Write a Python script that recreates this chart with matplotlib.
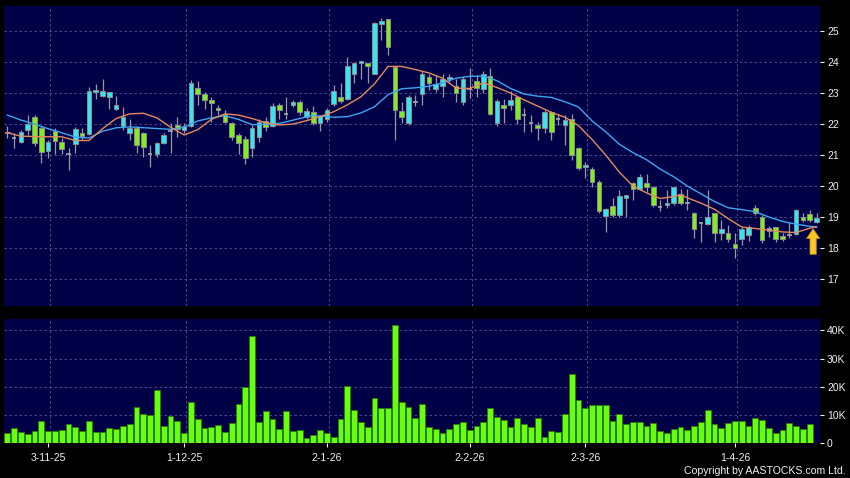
import matplotlib
matplotlib.use("Agg")
import matplotlib.pyplot as plt
from matplotlib.patches import Rectangle
import numpy as np

plt.rcParams['font.family'] = ['Liberation Sans', 'DejaVu Sans']

# daily candles, oldest first
opens = [21.76, 21.54, 21.41, 21.80, 22.24, 21.88, 21.13, 21.78, 21.43, 21.04,
         21.35, 21.70, 21.68, 23.03, 22.89, 22.86, 22.50, 21.93, 21.72, 21.88,
         21.72, 21.03, 21.03, 21.40, 21.78, 21.98, 21.81, 21.94, 23.18, 22.96,
         22.77, 22.52, 22.34, 22.02, 21.65, 21.51, 21.22, 21.59, 22.11, 21.94,
         22.61, 22.34, 22.60, 22.72, 22.22, 22.40, 22.04, 22.16, 22.65, 22.88,
         22.82, 23.61, 23.96, 23.96, 23.63, 25.23, 25.38, 23.83, 22.42, 22.04,
         22.72, 22.96, 23.51, 23.12, 23.23, 23.45, 23.23, 22.72, 23.12, 23.40,
         23.12, 23.55, 22.02, 22.60, 22.60, 22.88, 22.29, 22.04, 21.97, 21.86,
         22.40, 22.16, 21.96, 22.18, 21.22, 20.62, 20.54, 20.14, 19.03, 19.35,
         19.06, 19.63, 20.09, 19.92, 20.09, 19.98, 19.33, 19.39, 19.44, 19.74,
         19.44, 19.14, 18.80, 18.77, 19.12, 18.50, 18.49, 18.12, 18.29, 18.42,
         19.28, 19.01, 18.55, 18.67, 18.40, 18.42, 18.44, 19.01, 19.09, 18.83]
highs = [21.93, 21.70, 21.80, 22.30, 22.29, 21.93, 21.48, 21.86, 21.54, 21.24,
         21.91, 21.86, 23.20, 23.28, 23.47, 23.05, 22.90, 22.56, 22.18, 21.93,
         21.75, 21.32, 21.43, 21.70, 22.02, 22.24, 22.05, 23.42, 23.40, 23.05,
         22.88, 22.62, 22.45, 22.08, 21.70, 21.60, 21.96, 22.18, 22.24, 22.67,
         22.67, 22.88, 22.77, 22.77, 22.51, 22.58, 22.29, 22.51, 23.26, 23.31,
         24.17, 24.01, 24.03, 23.98, 25.30, 25.41, 25.38, 23.85, 22.72, 22.94,
         22.94, 23.72, 23.61, 23.58, 23.61, 23.63, 23.47, 23.55, 23.80, 23.58,
         23.72, 23.80, 22.80, 22.80, 23.08, 22.90, 22.51, 22.29, 22.08, 22.45,
         22.43, 22.34, 22.29, 22.34, 21.27, 20.78, 20.62, 20.19, 19.28, 19.60,
         19.87, 19.71, 20.12, 20.39, 20.39, 20.01, 19.55, 19.87, 19.98, 19.92,
         19.89, 19.17, 18.85, 19.87, 19.14, 18.90, 18.74, 18.47, 18.69, 18.74,
         19.39, 19.06, 18.71, 18.69, 18.47, 18.85, 19.25, 19.12, 19.23, 19.12]
lows = [21.54, 21.22, 21.38, 21.65, 21.29, 20.75, 20.92, 21.05, 21.03, 20.52,
        21.07, 21.50, 21.65, 22.81, 22.86, 22.50, 22.47, 21.81, 21.50, 21.07,
        20.95, 20.62, 20.95, 21.37, 21.08, 21.59, 21.70, 21.90, 22.61, 22.50,
        22.08, 22.30, 22.04, 21.50, 21.05, 20.70, 20.95, 21.43, 21.78, 21.92,
        22.18, 22.18, 22.55, 22.29, 22.16, 21.97, 21.78, 22.08, 22.58, 22.67,
        22.77, 23.31, 23.47, 23.33, 23.63, 24.71, 24.23, 21.50, 22.02, 21.97,
        22.58, 22.61, 23.10, 23.04, 22.86, 23.37, 22.72, 22.63, 22.83, 22.86,
        22.99, 22.29, 21.94, 22.04, 22.45, 22.00, 21.75, 21.75, 21.50, 21.70,
        21.48, 21.97, 21.32, 20.84, 20.52, 20.25, 19.98, 19.12, 18.53, 19.01,
        19.01, 18.99, 19.55, 19.87, 19.82, 19.31, 19.20, 19.28, 19.39, 19.39,
        19.23, 18.31, 18.20, 18.74, 18.20, 18.25, 18.20, 17.67, 18.10, 18.24,
        19.06, 18.17, 18.36, 18.20, 18.24, 18.34, 18.42, 18.85, 18.83, 18.80]
closes = [21.71, 21.54, 21.75, 21.99, 21.38, 21.09, 21.41, 21.46, 21.19, 21.04,
          21.83, 21.60, 23.07, 23.10, 23.07, 23.05, 22.60, 22.24, 21.88, 21.34,
          21.27, 21.03, 21.40, 21.65, 21.78, 21.85, 21.94, 23.31, 22.97, 22.77,
          22.67, 22.47, 22.08, 21.59, 21.38, 20.92, 21.86, 22.08, 21.89, 22.58,
          22.45, 22.34, 22.72, 22.38, 22.43, 22.04, 22.26, 22.45, 23.08, 22.75,
          23.89, 23.96, 24.02, 23.89, 25.25, 25.31, 24.49, 22.47, 22.24, 22.86,
          22.72, 23.61, 23.34, 23.29, 23.47, 23.53, 23.01, 23.47, 23.12, 23.18,
          23.63, 22.32, 22.75, 22.51, 22.77, 22.18, 22.29, 22.04, 21.88, 22.40,
          21.75, 22.16, 22.13, 21.00, 20.57, 20.67, 20.14, 19.20, 19.25, 19.06,
          19.68, 19.71, 19.89, 20.28, 19.98, 19.39, 19.33, 19.45, 19.96, 19.46,
          19.44, 18.60, 18.80, 19.01, 18.47, 18.63, 18.29, 18.01, 18.60, 18.69,
          19.14, 18.26, 18.65, 18.29, 18.29, 18.42, 19.22, 18.90, 18.90, 18.96]
volumes = [3.5, 5.3, 4.0, 3.4, 4.4, 7.8, 4.5, 4.4, 4.8, 6.9,
           5.7, 4.4, 7.9, 4.1, 3.9, 5.3, 5.0, 6.0, 6.8, 12.7,
           10.3, 9.9, 18.9, 6.1, 9.6, 7.9, 3.5, 14.6, 8.7, 5.4,
           5.9, 6.5, 4.0, 7.1, 13.8, 19.9, 38.1, 7.7, 11.4, 8.7,
           5.1, 11.4, 4.5, 4.6, 2.0, 2.9, 4.7, 3.5, 2.2, 8.7,
           20.3, 11.8, 7.6, 5.7, 16.1, 12.4, 12.4, 41.8, 14.6, 12.7,
           9.0, 13.9, 5.7, 5.0, 3.5, 5.0, 6.7, 7.5, 4.7, 6.1,
           7.4, 12.6, 9.4, 8.2, 5.7, 9.0, 6.8, 5.7, 9.1, 2.4,
           4.5, 4.0, 10.3, 24.6, 15.2, 12.6, 13.4, 13.4, 13.4, 7.8,
           10.2, 6.7, 7.7, 7.7, 6.3, 7.3, 4.5, 3.8, 5.0, 5.7,
           4.7, 6.1, 7.4, 11.8, 6.9, 5.5, 7.1, 7.9, 7.9, 6.1,
           9.1, 8.3, 5.5, 3.6, 4.6, 7.1, 6.1, 5.0, 6.7, 0.2]  # thousands

# moving averages (bar index, value)
ma_fast_idx = [0, 2, 5, 8, 10, 12, 14, 16, 18, 20, 22, 24, 26, 28, 30, 32, 34, 36,
               38, 40, 42, 44, 46, 48, 50, 52, 54, 56, 58, 60, 62, 64, 66, 68, 70,
               72, 74, 76, 78, 80, 82, 84, 86, 88, 90, 92, 94, 96, 98, 99, 100, 102,
               104, 106, 108, 110, 112, 114, 116, 118, 119]
ma_fast = [21.72, 21.61, 21.59, 21.59, 21.47, 21.47, 21.85, 22.18, 22.33, 22.35,
           22.20, 21.90, 21.65, 21.82, 22.15, 22.33, 22.29, 22.18, 22.04, 21.97,
           22.00, 22.11, 22.24, 22.40, 22.62, 22.88, 23.30, 23.86, 23.86, 23.76,
           23.65, 23.48, 23.16, 23.15, 23.33, 23.18, 23.00, 22.78, 22.58, 22.38,
           22.22, 21.95, 21.50, 21.00, 20.45, 20.00, 19.78, 19.60, 19.66, 19.72,
           19.62, 19.45, 19.25, 18.95, 18.68, 18.63, 18.58, 18.52, 18.50, 18.64,
           18.69]
ma_slow_idx = [0, 2, 4, 6, 8, 10, 12, 14, 16, 18, 21, 24, 26, 28, 30, 32, 34, 36,
               38, 40, 43, 45, 48, 50, 52, 54, 56, 58, 60, 62, 64, 66, 68, 70, 72,
               74, 76, 78, 80, 82, 84, 86, 88, 90, 92, 94, 96, 98, 100, 102, 104,
               106, 108, 110, 112, 114, 116, 118, 119]
ma_slow = [22.29, 22.13, 22.00, 21.85, 21.72, 21.58, 21.55, 21.77, 21.88, 21.91,
           21.87, 21.83, 21.90, 22.10, 22.20, 22.27, 22.15, 21.98, 21.99, 22.02,
           22.18, 22.28, 22.22, 22.24, 22.36, 22.56, 22.95, 23.14, 23.17, 23.22,
           23.33, 23.48, 23.54, 23.55, 23.40, 23.15, 22.97, 22.90, 22.86, 22.72,
           22.55, 22.10, 21.75, 21.35, 21.08, 20.85, 20.55, 20.30, 20.00, 19.75,
           19.50, 19.30, 19.24, 19.17, 19.00, 18.86, 18.77, 18.70, 18.68]

date_labels = ['3-11-25', '1-12-25', '2-1-26', '2-2-26', '2-3-26', '1-4-26']
date_idx = [6, 26, 47, 68, 85, 107]
price_ticks = [17, 18, 19, 20, 21, 22, 23, 24, 25]
vol_ticks = [0, 10, 20, 30, 40]

BG = '#000046'
GRID = '#55559a'
UP = '#33e6f2'
DOWN = '#80ee1c'
EDGE = '#8c8c8c'
TXT = '#f0f0f0'

fig = plt.figure(figsize=(8.5, 4.78), dpi=100, facecolor='black')
ax1 = fig.add_axes([4 / 850, 172 / 478, 816 / 850, 300 / 478])
ax2 = fig.add_axes([4 / 850, 34.7 / 478, 816 / 850, 124 / 478])

n = len(closes)
x = np.arange(n)
grid_x = [d + 0.3 for d in date_idx]

for ax in (ax1, ax2):
    ax.set_facecolor(BG)
    for s in ax.spines.values():
        s.set_visible(False)
    ax.set_xlim(-0.49, n - 0.49)
    for gx in grid_x:
        ax.axvline(gx, color=GRID, lw=0.6, ls=(0, (3, 3)), zorder=0)
    ax.yaxis.tick_right()
    ax.tick_params(axis='y', colors=TXT, length=3, width=0.8, pad=2, labelsize=7.5)

# candles
bw = 0.68
for i in x:
    o, h, l, c = opens[i], highs[i], lows[i], closes[i]
    ax1.vlines(i, l, h, color='#9a9a9a', lw=0.9, zorder=2)
    if c > o:
        col = UP
    elif c < o:
        col = DOWN
    else:
        col = None
    if col is None:
        ax1.hlines(c, i - bw / 2, i + bw / 2, color='#a8a8a8', lw=1.2, zorder=3)
    else:
        lo = min(o, c)
        ax1.add_patch(Rectangle((i - bw / 2, lo), bw, abs(c - o), facecolor=col,
                                edgecolor=EDGE, lw=0.7, zorder=3))

ax1.plot(ma_slow_idx, ma_slow, color='#3fa6ee', lw=1.0, zorder=4)
ax1.plot(ma_fast_idx, ma_fast, color='#e68a5c', lw=1.0, zorder=4)

# marker arrow under the last bar
ax1.annotate('', xy=(118.5, 18.62), xytext=(118.5, 17.80),
             arrowprops=dict(arrowstyle='simple,head_width=0.68,head_length=0.5,tail_width=0.32',
                             mutation_scale=14, shrinkA=0, shrinkB=0,
                             fc='#ffc62a', ec='#c88a00', lw=0.6),
             zorder=6)

ax1.set_ylim(16.13, 25.81)
ax1.set_yticks(price_ticks)
ax1.set_yticklabels([str(p) for p in price_ticks])
for p in price_ticks:
    ax1.axhline(p, color=GRID, lw=0.6, ls=(0, (3, 3)), zorder=0)
ax1.set_xticks([])

# volume
ax2.bar(x, volumes, width=0.86, color='#66ff11', edgecolor='#2f7a00', lw=0.6, zorder=3)
ax2.set_ylim(0, 43.9)
ax2.set_yticks(vol_ticks)
ax2.set_yticklabels(['0'] + [f'{v}K' for v in vol_ticks[1:]])
for v in vol_ticks[1:]:
    ax2.axhline(v, color=GRID, lw=0.6, ls=(0, (3, 3)), zorder=0)
ax2.set_xticks(date_idx)
ax2.set_xticklabels(date_labels)
ax2.tick_params(axis='x', colors=TXT, length=3, width=0.8, pad=4, labelsize=7.5)

fig.text(846 / 850, 1 - 471 / 478, 'Copyright by AASTOCKS.com Ltd.', color=TXT,
         fontsize=7.6, ha='right', va='center')

fig.savefig('out.png', dpi=100, facecolor='black')
